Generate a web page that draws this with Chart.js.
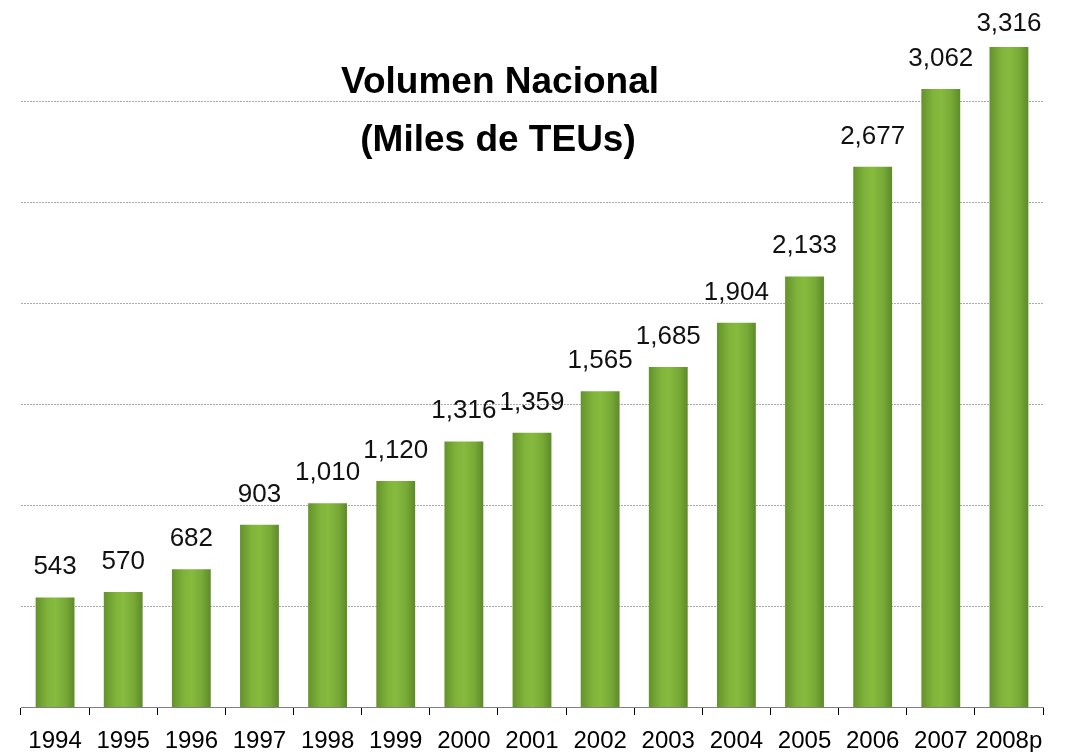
<!DOCTYPE html>
<html>
<head>
<meta charset="utf-8">
<script src="https://cdn.jsdelivr.net/npm/chart.js@4/dist/chart.umd.min.js"></script>
<style>
html,body{margin:0;padding:0;background:#fff;}
canvas{display:block;}
</style>
</head>
<body>
<canvas id="c" width="1065" height="752"></canvas>
<script>
const categories = ['1994','1995','1996','1997','1998','1999','2000','2001','2002','2003','2004','2005','2006','2007','2008p'];
const volumen = [543,570,682,903,1010,1120,1316,1359,1565,1685,1904,2133,2677,3062,3316];
const titleLines = ['Volumen Nacional','(Miles de TEUs)'];
const gridValues = [500,1000,1500,2000,2500,3000];
const yMax = 3270;

const FONT = '"Liberation Sans", Arial, sans-serif';
const BAR_PCT = 0.57;

function barGradient(ctx) {
  const chart = ctx.chart;
  const xs = chart.scales && chart.scales.x;
  if (!xs || !chart.chartArea || ctx.dataIndex === undefined) return '#7aab35';
  const cx = xs.getPixelForValue(ctx.dataIndex);
  const w = (chart.chartArea.right - chart.chartArea.left) / categories.length * BAR_PCT;
  const g = chart.ctx.createLinearGradient(cx - w/2, 0, cx + w/2, 0);
  g.addColorStop(0, '#64922b');
  g.addColorStop(0.3, '#7fb33a');
  g.addColorStop(0.5, '#87bb3e');
  g.addColorStop(0.78, '#77a936');
  g.addColorStop(1, '#5d8a29');
  return g;
}

const gridPlugin = {
  id: 'dottedGrid',
  beforeDatasetsDraw(chart) {
    const ys = chart.scales.y;
    const area = chart.chartArea;
    const ctx = chart.ctx;
    ctx.save();
    ctx.strokeStyle = '#a8a8a8';
    ctx.lineWidth = 1;
    ctx.setLineDash([2, 1]);
    gridValues.forEach(v => {
      const y = Math.round(ys.getPixelForValue(v)) + 0.5;
      ctx.beginPath();
      ctx.moveTo(area.left, y);
      ctx.lineTo(area.right, y);
      ctx.stroke();
    });
    ctx.restore();
  }
};

const labelPlugin = {
  id: 'valueLabels',
  afterDatasetsDraw(chart) {
    const ctx = chart.ctx;
    const meta = chart.getDatasetMeta(0);
    ctx.save();
    ctx.font = '26px ' + FONT;
    ctx.fillStyle = '#111';
    ctx.textAlign = 'center';
    ctx.textBaseline = 'alphabetic';
    meta.data.forEach((bar, i) => {
      const top = Math.max(bar.y, chart.chartArea.top);
      const y = Math.max(top - 23, 31);
      ctx.fillText(volumen[i].toLocaleString('en-US'), bar.x, y);
    });
    ctx.restore();
  }
};

const titlePlugin = {
  id: 'innerTitle',
  afterDraw(chart) {
    const ctx = chart.ctx;
    ctx.save();
    ctx.font = 'bold 37px ' + FONT;
    ctx.fillStyle = '#000';
    ctx.textAlign = 'center';
    ctx.textBaseline = 'alphabetic';
    ctx.fillText(titleLines[0], 500, 93);
    ctx.fillText(titleLines[1], 498, 151);
    ctx.restore();
  }
};

new Chart(document.getElementById('c'), {
  type: 'bar',
  data: {
    labels: categories,
    datasets: [{
      data: volumen,
      backgroundColor: barGradient,
      borderWidth: 0,
      barPercentage: BAR_PCT,
      categoryPercentage: 1,
      clip: 0
    }]
  },
  options: {
    responsive: false,
    animation: false,
    events: [],
    layout: { padding: { left: 21, right: 22, top: 47, bottom: 0 } },
    plugins: { legend: { display: false }, tooltip: { enabled: false }, title: { display: false } },
    scales: {
      x: {
        grid: { drawOnChartArea: false, drawTicks: true, tickLength: 8, color: '#000', offset: true },
        border: { display: true, color: '#808080', width: 1 },
        ticks: { color: '#000', font: { family: FONT, size: 24 }, padding: 12, maxRotation: 0, autoSkip: false },
        afterFit(s) { s.height = 45; }
      },
      y: {
        min: 0,
        max: yMax,
        ticks: { display: false, stepSize: 500 },
        border: { display: false },
        grid: { display: false },
        afterFit(s) { s.width = 0; }
      }
    }
  },
  plugins: [gridPlugin, labelPlugin, titlePlugin]
});
</script>
</body>
</html>
